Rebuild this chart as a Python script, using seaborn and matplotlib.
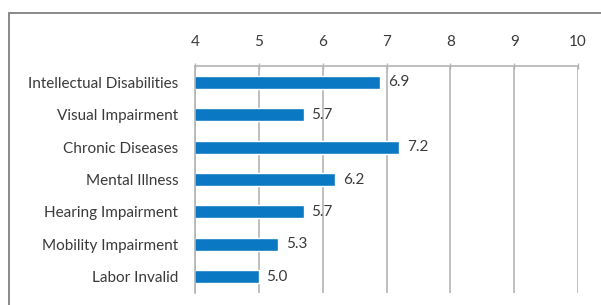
import seaborn as sns
import pandas as pd
from matplotlib import pyplot as plt
from matplotlib.patches import Rectangle

categories = ['Intellectual Disabilities', 'Visual Impairment', 'Chronic Diseases',
              'Mental Illness', 'Hearing Impairment', 'Mobility Impairment', 'Labor Invalid']
scores = [6.9, 5.7, 7.2, 6.2, 5.7, 5.3, 5.0]
x_ticks = [4, 5, 6, 7, 8, 9, 10]

data = pd.DataFrame({'Category': categories, 'Score': scores})

sns.set_theme(style="white")
plt.rcParams['font.family'] = ['Lato', 'DejaVu Sans']

fig = plt.figure(figsize=(6.01, 3.05), dpi=100)
ax = fig.add_axes([0.3245, 0.0393, 0.6373, 0.7443])

sns.barplot(x='Score', y='Category', data=data, orient='h', color='#0a78c2',
            width=0.4, ax=ax, saturation=1)

ax.set_xlim(4, 10)
ax.set_xticks(x_ticks)
ax.xaxis.tick_top()
ax.grid(axis='x', color='#b4b4b4', linewidth=1.2)
ax.set_axisbelow(True)
ax.set_xlabel('')
ax.set_ylabel('')
ax.tick_params(axis='x', colors='#b4b4b4', labelcolor='#3a3a3a', labelsize=11,
               length=4, direction='inout', width=1, pad=10)
ax.tick_params(axis='y', labelcolor='#3a3a3a', labelsize=11, pad=12)

# category separator ticks on the left axis
ax.set_yticks([i - 0.5 for i in range(len(categories) + 1)], minor=True)
ax.tick_params(axis='y', which='major', length=0)
ax.tick_params(axis='y', which='minor', length=5, color='#b4b4b4', width=1)

for side in ['right', 'bottom']:
    ax.spines[side].set_visible(False)
for side in ['top', 'left']:
    ax.spines[side].set_color('#b4b4b4')
    ax.spines[side].set_linewidth(1.2)

for i, v in enumerate(scores):
    ax.text(v + 0.12, i, f'{v:.1f}', va='center', ha='left', fontsize=11, color='#3a3a3a')

fig.patches.append(Rectangle((9 / 601, -0.1), 1.2, 1 - 13 / 305 + 0.1, transform=fig.transFigure,
                             fill=False, edgecolor='#808080', linewidth=1.3))

fig.savefig('out.png', dpi=100)
